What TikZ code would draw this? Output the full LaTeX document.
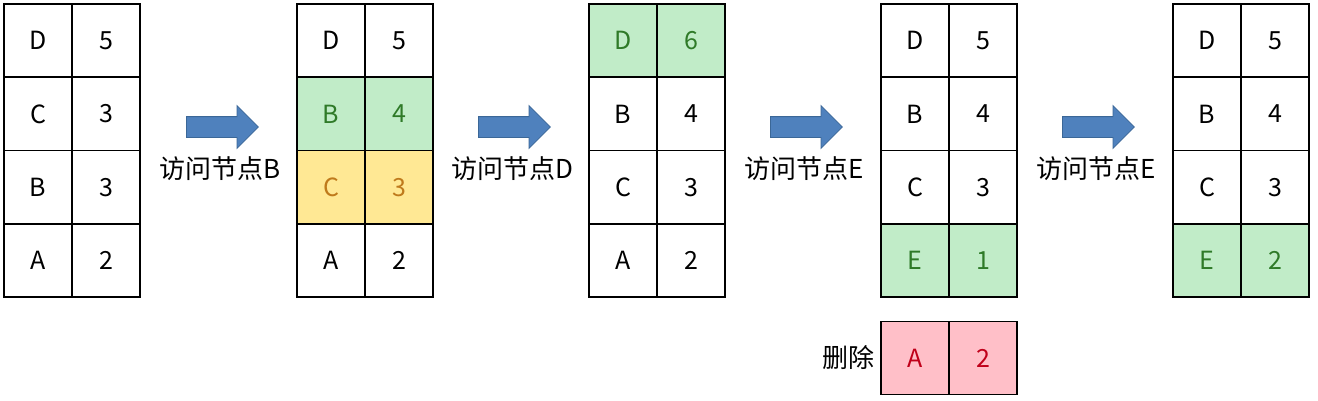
\documentclass[tikz,border=0pt]{standalone}
\usepackage{fontspec}
\setmainfont{Noto Sans CJK SC}
\usetikzlibrary{shapes.arrows}
\definecolor{leafgreen}{HTML}{C1ECC8}
\definecolor{darkleaf}{HTML}{2F7A28}
\definecolor{butter}{HTML}{FFE894}
\definecolor{amber}{HTML}{BF7A1C}
\definecolor{rosepink}{HTML}{FFBFC8}
\definecolor{crimson}{HTML}{C0001A}
\definecolor{steelblue}{HTML}{4F81BD}
\definecolor{steeledge}{HTML}{3B6797}

\tikzset{
  cell/.style={draw, line width=1.6pt, minimum width=68pt, minimum height=73.3pt, inner sep=0pt, font=\fontsize{25}{30}\selectfont},
  hit/.style={cell, fill=leafgreen, text=darkleaf},
  old/.style={cell, fill=butter, text=amber},
  gone/.style={cell, fill=rosepink, text=crimson},
  blockarrow/.style={single arrow, fill=steelblue, draw=steeledge, line width=0.8pt, minimum height=72pt, minimum width=42pt, single arrow head extend=11pt, inner xsep=0pt, inner ysep=10pt, anchor=tail},
  caption/.style={font=\fontsize{26}{30}\selectfont, inner sep=0pt}
}

\begin{document}
\begin{tikzpicture}[x=1pt, y=-1pt]
\useasboundingbox (0,0) rectangle (1318,400);

% start
\node[cell] (ad) at (38,40.6) {D};
\node[cell] (av) at (106,40.6) {5};
\node[cell] (ac) at (38,113.9) {C};
\node[cell] (acv) at (106,113.9) {3};
\node[cell] (ab) at (38,187.1) {B};
\node[cell] (abv) at (106,187.1) {3};
\node[cell] (aa) at (38,260.4) {A};
\node[cell] (aav) at (106,260.4) {2};

% after B
\node[cell] (bd) at (331,40.6) {D};
\node[cell] (bdv) at (399,40.6) {5};
\node[hit] (bb) at (331,113.9) {B};
\node[hit] (bbv) at (399,113.9) {4};
\node[old] (bc) at (331,187.1) {C};
\node[old] (bcv) at (399,187.1) {3};
\node[cell] (ba) at (331,260.4) {A};
\node[cell] (bav) at (399,260.4) {2};

% after D
\node[hit] (cd) at (623,40.6) {D};
\node[hit] (cdv) at (691,40.6) {6};
\node[cell] (cb) at (623,113.9) {B};
\node[cell] (cbv) at (691,113.9) {4};
\node[cell] (cc) at (623,187.1) {C};
\node[cell] (ccv) at (691,187.1) {3};
\node[cell] (ca) at (623,260.4) {A};
\node[cell] (cav) at (691,260.4) {2};

% after E
\node[cell] (dd) at (915,40.6) {D};
\node[cell] (ddv) at (983,40.6) {5};
\node[cell] (db) at (915,113.9) {B};
\node[cell] (dbv) at (983,113.9) {4};
\node[cell] (dc) at (915,187.1) {C};
\node[cell] (dcv) at (983,187.1) {3};
\node[hit] (de) at (915,260.4) {E};
\node[hit] (dev) at (983,260.4) {1};

\node[gone] (xa) at (915,358) {A};
\node[gone] (xav) at (983,358) {2};
\node[caption, anchor=east] (del) at ([xshift=-6pt]xa.west) {删除};

% after E again
\node[cell] (ed) at (1207,40.6) {D};
\node[cell] (edv) at (1275,40.6) {5};
\node[cell] (eb) at (1207,113.9) {B};
\node[cell] (ebv) at (1275,113.9) {4};
\node[cell] (ec) at (1207,187.1) {C};
\node[cell] (ecv) at (1275,187.1) {3};
\node[hit] (ee) at (1207,260.4) {E};
\node[hit] (eev) at (1275,260.4) {2};

% steps
\node[blockarrow] (go1) at (186,127) {};
\node[blockarrow] (go2) at (478,127) {};
\node[blockarrow] (go3) at (770,127) {};
\node[blockarrow] (go4) at (1062,127) {};

\node[caption] (say1) at (220,169) {访问节点B};
\node[caption] (say2) at (512,169) {访问节点D};
\node[caption] (say3) at (804,169) {访问节点E};
\node[caption] (say4) at (1096,169) {访问节点E};

\end{tikzpicture}
\end{document}
